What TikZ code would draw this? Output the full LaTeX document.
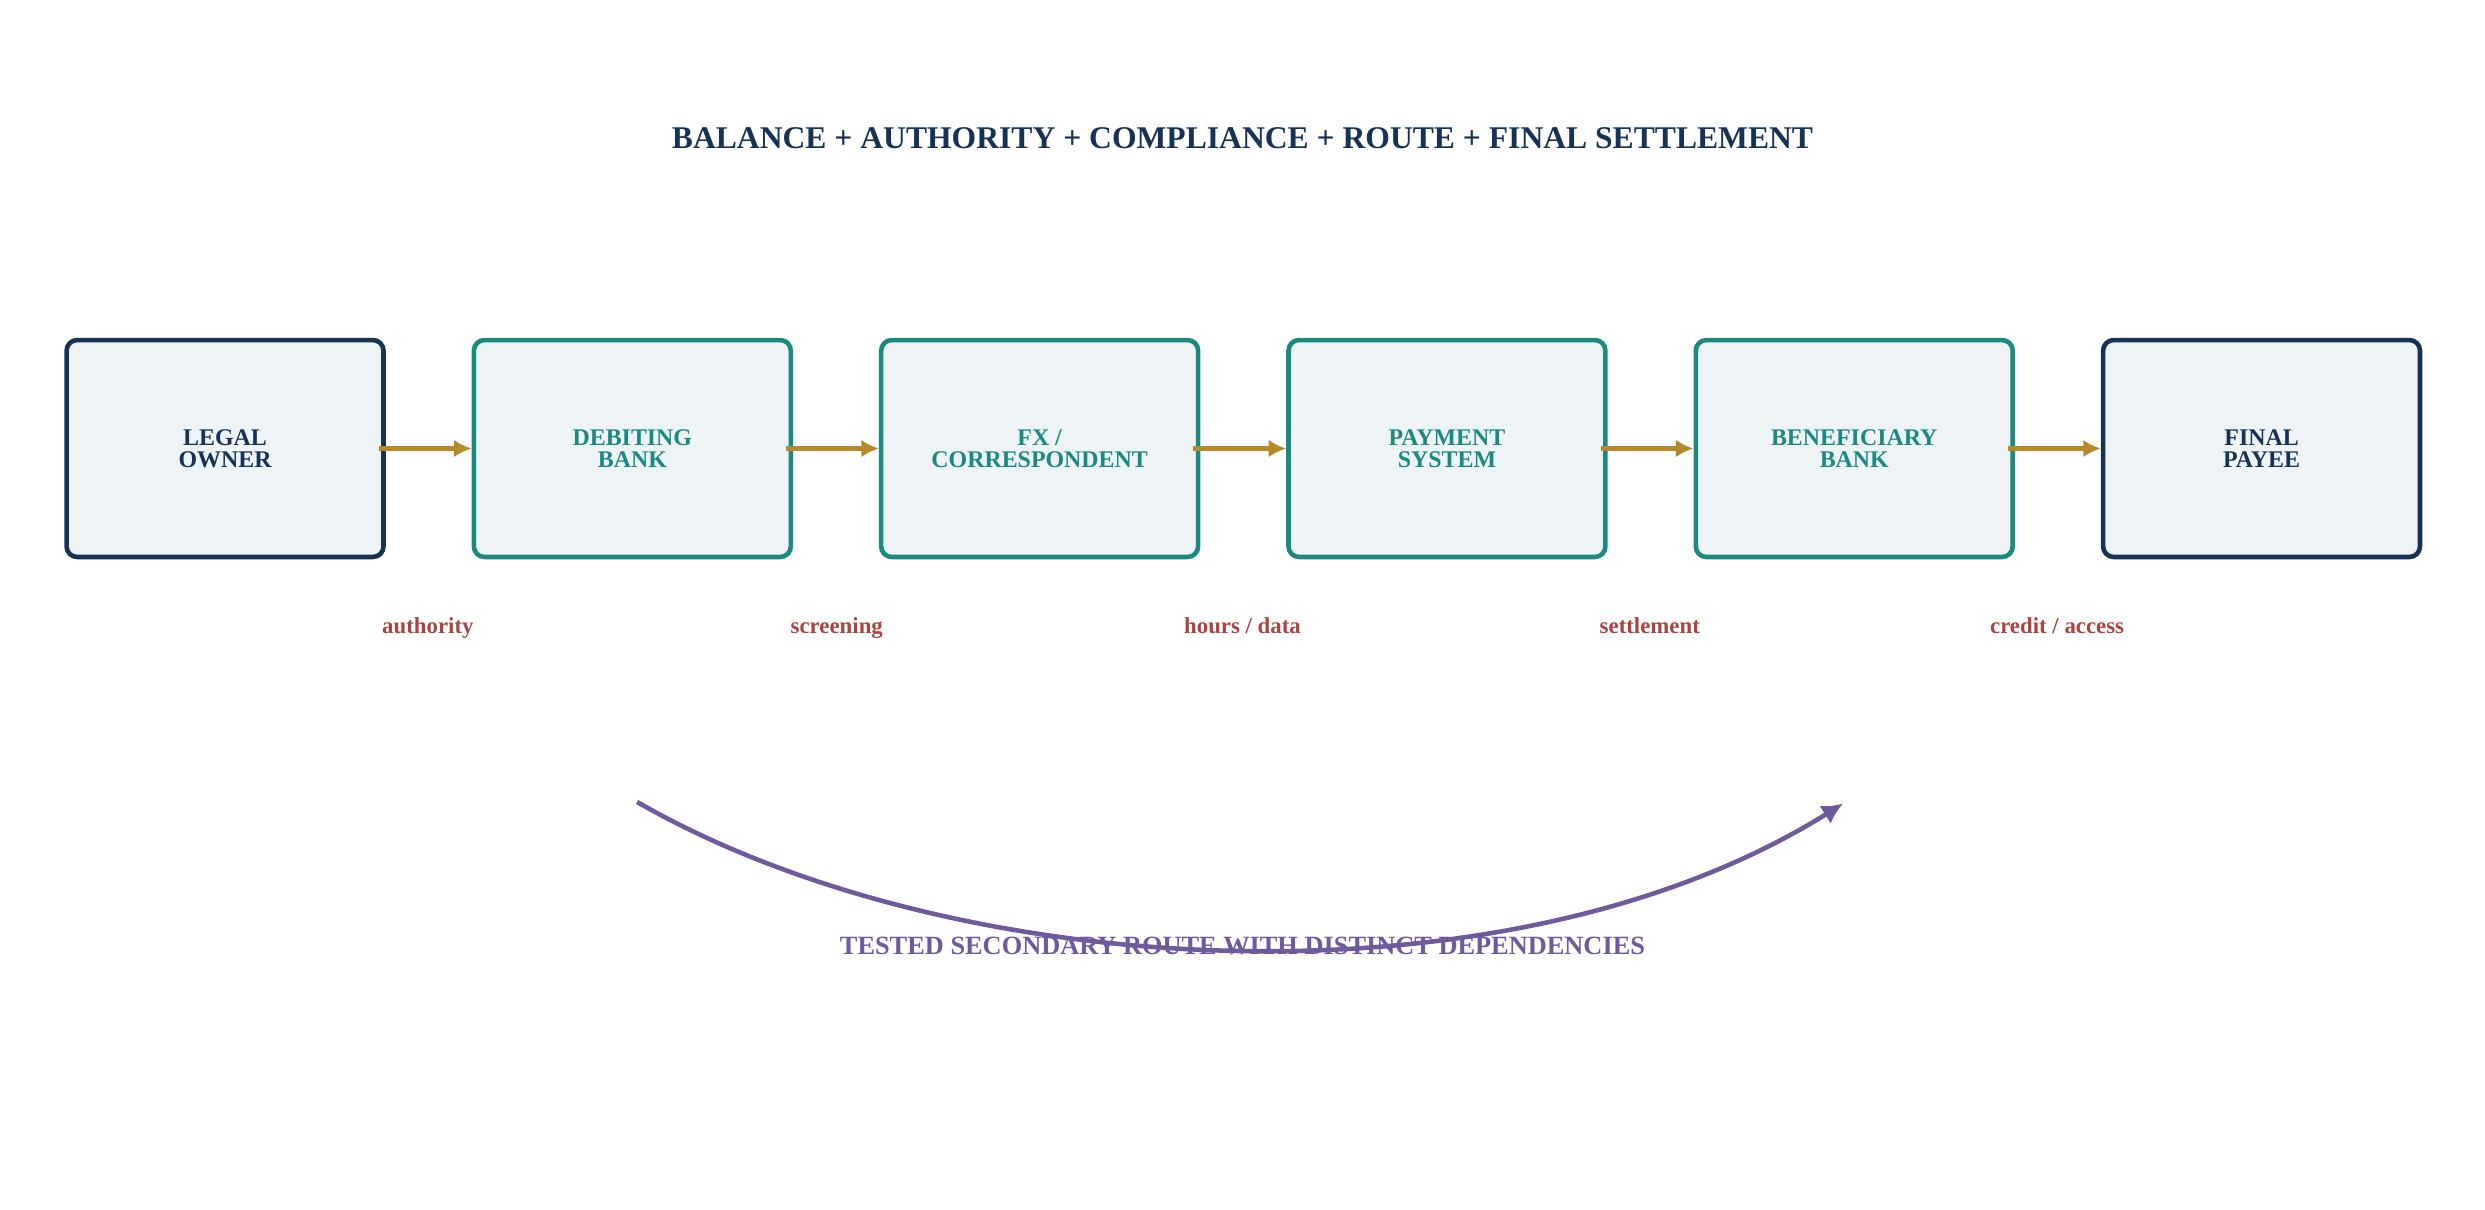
\documentclass[tikz,border=0pt]{standalone}
\usepackage{fontspec}
\setmainfont{Liberation Serif}
\usetikzlibrary{arrows.meta}
\definecolor{navy}{HTML}{163356}
\definecolor{teal}{HTML}{1A8A80}
\definecolor{boxfill}{HTML}{EEF3F6}
\definecolor{gold}{HTML}{B8892A}
\definecolor{rust}{HTML}{A94442}
\definecolor{plum}{HTML}{6F5A9E}
\tikzset{
  stage/.style={draw=teal, fill=boxfill, line width=1.3pt, rounded corners=3pt,
    minimum width=3.17cm, minimum height=2.17cm, align=center,
    font=\fontsize{6.8}{6.4}\selectfont\bfseries, text=teal},
  endpt/.style={stage, draw=navy, text=navy},
  link/.style={draw=gold, line width=1.2pt, -{Latex[length=5pt,width=5pt]}},
  need/.style={font=\fontsize{6.5}{8}\selectfont\bfseries, text=rust, anchor=base}
}
\begin{document}
\begin{tikzpicture}[x=0.01585cm, y=-0.01585cm]
\useasboundingbox (0,0) rectangle (1568,763);
% title
\node (title) at (784,87) [font=\fontsize{9}{11}\selectfont\bfseries, text=navy]
  {BALANCE + AUTHORITY + COMPLIANCE + ROUTE + FINAL SETTLEMENT};
% chain
\node (owner) at (142,283) [endpt] {LEGAL\\OWNER};
\node (debit) at (399,283) [stage] {DEBITING\\BANK};
\node (fx)    at (656,283) [stage] {FX /\\CORRESPONDENT};
\node (pay)   at (913,283) [stage] {PAYMENT\\SYSTEM};
\node (benef) at (1170,283) [stage] {BENEFICIARY\\BANK};
\node (payee) at (1427,283) [endpt] {FINAL\\PAYEE};
\foreach \a/\b in {owner/debit, debit/fx, fx/pay, pay/benef, benef/payee}
  \draw [link] ([xshift=-2pt]\a.east) -- (\b.west);
% dependencies
\node (dA) at (270,400) [need] {authority};
\node (dB) at (528,400) [need] {screening};
\node (dC) at (784,400) [need] {hours / data};
\node (dD) at (1041,400) [need] {settlement};
\node (dE) at (1298,400) [need] {credit / access};
% secondary route
\coordinate (altA) at (402,506);
\coordinate (altB) at (1163,507);
\draw [plum, line width=1.3pt, -{Latex[length=6pt,width=6pt]}]
  (altA) .. controls (600,620) and (950,640) .. (altB);
\node (alt) at (784,597) [font=\fontsize{7.5}{9}\selectfont\bfseries, text=plum]
  {TESTED SECONDARY ROUTE WITH DISTINCT DEPENDENCIES};
\end{tikzpicture}
\end{document}
